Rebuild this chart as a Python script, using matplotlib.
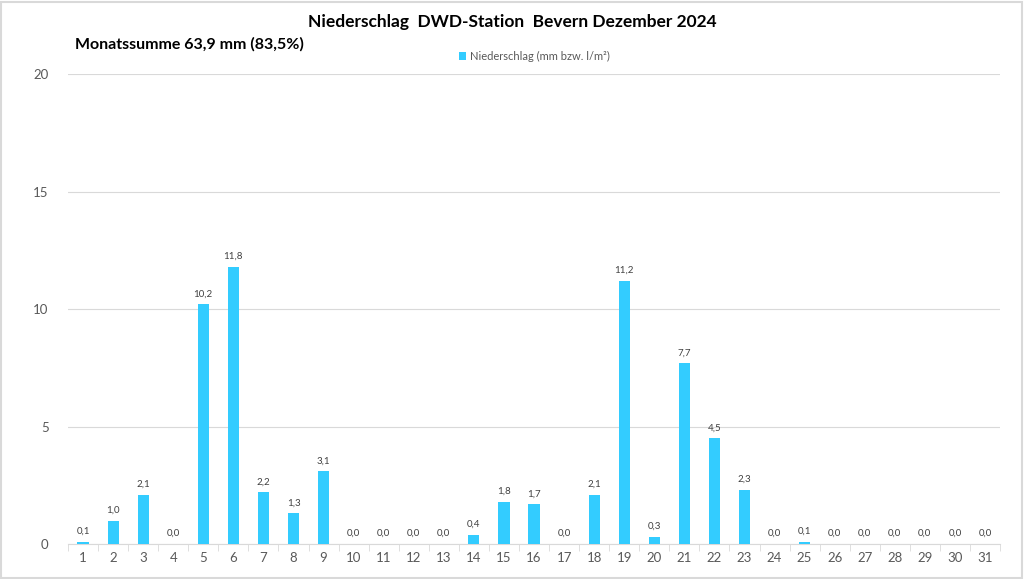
import matplotlib.pyplot as plt
from matplotlib.patches import Rectangle

plt.rcParams['font.family'] = ['Lato', 'DejaVu Sans']

# Daily precipitation, December 2024
days = list(range(1, 32))
rain = [0.1, 1.0, 2.1, 0.0, 10.2, 11.8, 2.2, 1.3, 3.1, 0.0,
        0.0, 0.0, 0.0, 0.4, 1.8, 1.7, 0.0, 2.1, 11.2, 0.3,
        7.7, 4.5, 2.3, 0.0, 0.1, 0.0, 0.0, 0.0, 0.0, 0.0, 0.0]
y_ticks = [0, 5, 10, 15, 20]

fig = plt.figure(figsize=(10.24, 5.79), dpi=100)
ax = fig.add_axes([0.0664, 0.0604, 0.9102, 0.8118])

bars = ax.bar(days, rain, width=0.37, color='#33CCFF',
              label='Niederschlag (mm bzw. l/m²)', zorder=3)

for d, v in zip(days, rain):
    ax.text(d, v + 0.25, f"{v:.1f}".replace('.', ','), ha='center', va='bottom',
            fontsize=7, color='#404040')

ax.set_xlim(0.5, 31.5)
ax.set_ylim(0, 20)
ax.set_yticks(y_ticks)
ax.set_xticks(days)
ax.set_xticks([d + 0.5 for d in range(0, 32)], minor=True)
ax.tick_params(axis='x', which='major', length=0, colors='#595959', labelsize=9.5, pad=6)
ax.tick_params(axis='x', which='minor', length=5, color='#d9d9d9')
ax.tick_params(axis='y', length=0, colors='#595959', labelsize=9.5, pad=14)
ax.grid(axis='y', color='#d9d9d9', linewidth=0.8, zorder=0)
for s in ['top', 'right', 'left']:
    ax.spines[s].set_visible(False)
ax.spines['bottom'].set_color('#d9d9d9')

fig.text(0.5, 0.962, 'Niederschlag  DWD-Station  Bevern Dezember 2024', ha='center', va='center',
         fontsize=12.5, fontweight='bold', color='#000000')
fig.text(0.073, 0.924, 'Monatssumme 63,9 mm (83,5%)', ha='left', va='center',
         fontsize=11.5, fontweight='bold', color='#000000')

ax.legend(loc='lower center', bbox_to_anchor=(0.5, 1.005), frameon=False, fontsize=8,
          handlelength=0.7, handleheight=0.7, handletextpad=0.3,
          labelcolor='#595959')

fig.add_artist(Rectangle((0.001, 0.002), 0.997, 0.995, transform=fig.transFigure,
                         fill=False, edgecolor='#d9d9d9', linewidth=1.5))

fig.savefig('out.png', dpi=100)
